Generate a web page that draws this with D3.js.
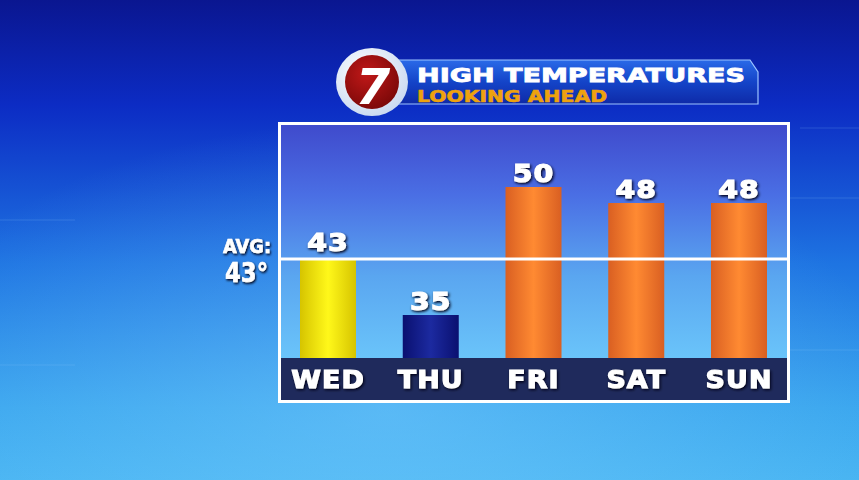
<!DOCTYPE html>
<html>
<head>
<meta charset="utf-8">
<script src="https://cdn.jsdelivr.net/npm/d3@7"></script>
<style>
  html, body { margin: 0; padding: 0; background: #1850d0; }
  svg { display: block; }
</style>
</head>
<body>
<svg id="chart" width="859" height="480"></svg>
<script>
// ---- data ----
const days = ["WED", "THU", "FRI", "SAT", "SUN"];
const highs = [43, 35, 50, 48, 48];
const avgLabel = "AVG:";
const avgValue = 43;
const titleText = "HIGH TEMPERATURES";
const subtitleText = "LOOKING AHEAD";
const logoText = "7";

const svg = d3.select("#chart");
const W = 859, H = 480;
const defs = svg.append("defs");

// background gradient
const bg = defs.append("linearGradient").attr("id", "bg").attr("x1", 0).attr("y1", 0).attr("x2", 0).attr("y2", 1);
bg.append("stop").attr("offset", "0%").attr("stop-color", "#0a1690");
bg.append("stop").attr("offset", "22%").attr("stop-color", "#0c2cc4");
bg.append("stop").attr("offset", "55%").attr("stop-color", "#1e74e2");
bg.append("stop").attr("offset", "85%").attr("stop-color", "#3aa6ee");
bg.append("stop").attr("offset", "100%").attr("stop-color", "#48b4f2");
svg.append("rect").attr("width", W).attr("height", H).attr("fill", "url(#bg)");

const glow = defs.append("radialGradient").attr("id", "glow").attr("cx", 0.45).attr("cy", 0.85).attr("r", 0.6);
glow.append("stop").attr("offset", "0%").attr("stop-color", "#7fd0ff").attr("stop-opacity", 0.45);
glow.append("stop").attr("offset", "100%").attr("stop-color", "#7fd0ff").attr("stop-opacity", 0);
svg.append("rect").attr("width", W).attr("height", H).attr("fill", "url(#glow)");

// faint decorative lines
const deco = svg.append("g").attr("stroke", "#9fd0ff").attr("stroke-opacity", 0.18).attr("fill", "none");
deco.append("line").attr("x1", 0).attr("x2", 75).attr("y1", 220).attr("y2", 220);
deco.append("line").attr("x1", 0).attr("x2", 75).attr("y1", 365).attr("y2", 365);
deco.append("line").attr("x1", 800).attr("x2", 859).attr("y1", 128).attr("y2", 128);
deco.append("line").attr("x1", 790).attr("x2", 859).attr("y1", 198).attr("y2", 198);
deco.append("line").attr("x1", 790).attr("x2", 859).attr("y1", 350).attr("y2", 350);

// ---- panel ----
const panel = { x: 280, y: 124, w: 508, h: 277 };
const band = { top: 358, bottom: 399 };

const pg = defs.append("linearGradient").attr("id", "panel").attr("x1", 0).attr("y1", 0).attr("x2", 0).attr("y2", 1);
pg.append("stop").attr("offset", "0%").attr("stop-color", "#3f4acc");
pg.append("stop").attr("offset", "30%").attr("stop-color", "#4a6ee4");
pg.append("stop").attr("offset", "65%").attr("stop-color", "#5aa6f0");
pg.append("stop").attr("offset", "100%").attr("stop-color", "#6ac4fa");
svg.append("rect").attr("x", panel.x).attr("y", panel.y).attr("width", panel.w).attr("height", band.top - panel.y)
  .attr("fill", "url(#panel)");

// scales
const barW = 56;
const x = d3.scalePoint().domain(days).range([328, 739]);
const y = d3.scaleLinear().domain([35, 43, 48, 50]).range([315, 259, 203, 187]);

// bar gradients
function hGrad(id, edge, mid) {
  const g = defs.append("linearGradient").attr("id", id).attr("x1", 0).attr("y1", 0).attr("x2", 1).attr("y2", 0);
  g.append("stop").attr("offset", "0%").attr("stop-color", edge);
  g.append("stop").attr("offset", "50%").attr("stop-color", mid);
  g.append("stop").attr("offset", "100%").attr("stop-color", edge);
}
hGrad("gYellow", "#d6c400", "#fff81a");
hGrad("gNavy", "#0a1070", "#1c2aa0");
hGrad("gOrange", "#d95f22", "#ff8a32");
const fillFor = v => v === avgValue ? "url(#gYellow)" : (v < avgValue ? "url(#gNavy)" : "url(#gOrange)");

svg.append("g").selectAll("rect").data(days).join("rect")
  .attr("x", d => x(d) - barW / 2)
  .attr("y", (d, i) => y(highs[i]))
  .attr("width", barW)
  .attr("height", (d, i) => band.top - y(highs[i]))
  .attr("fill", (d, i) => fillFor(highs[i]));

// bottom band
svg.append("rect").attr("x", panel.x).attr("y", band.top).attr("width", panel.w).attr("height", band.bottom - band.top + 2)
  .attr("fill", "#1f2a5c");

// avg line
svg.append("line").attr("x1", panel.x).attr("x2", panel.x + panel.w)
  .attr("y1", y(avgValue)).attr("y2", y(avgValue))
  .attr("stroke", "#ffffff").attr("stroke-width", 3);

// panel border
svg.append("rect").attr("x", panel.x - 0.5).attr("y", panel.y - 0.5).attr("width", panel.w + 1).attr("height", panel.h + 1)
  .attr("fill", "none").attr("stroke", "#ffffff").attr("stroke-width", 3);

// text shadow filter
const f = defs.append("filter").attr("id", "shadow").attr("x", "-20%").attr("y", "-30%").attr("width", "140%").attr("height", "160%");
f.append("feDropShadow").attr("dx", 1).attr("dy", 1.5).attr("stdDeviation", 1.3).attr("flood-color", "#000018").attr("flood-opacity", 1);

const font = "'DejaVu Sans', 'Liberation Sans', sans-serif";

// value labels
svg.append("g").selectAll("text").data(days).join("text")
  .attr("transform", (d, i) => `translate(${x(d)},${y(highs[i]) - (highs[i] === avgValue ? 8 : 5)}) scale(1.18,1)`)
  .attr("text-anchor", "middle")
  .attr("font-family", font).attr("font-weight", "bold").attr("font-size", 24)
  .attr("letter-spacing", 1)
  .attr("fill", "#ffffff").attr("stroke", "#ffffff").attr("stroke-width", 1.1)
  .attr("filter", "url(#shadow)")
  .text((d, i) => highs[i]);

// day labels
svg.append("g").selectAll("text").data(days).join("text")
  .attr("transform", d => `translate(${x(d)},388) scale(1.12,1)`)
  .attr("text-anchor", "middle")
  .attr("font-family", font).attr("font-weight", "bold").attr("font-size", 24)
  .attr("letter-spacing", 1)
  .attr("fill", "#ffffff").attr("stroke", "#ffffff").attr("stroke-width", 1.1)
  .attr("filter", "url(#shadow)")
  .text(d => d);

// AVG label
svg.append("text").attr("x", 271).attr("y", 253).attr("text-anchor", "end")
  .attr("font-family", font).attr("font-weight", "bold").attr("font-size", 19)
  .attr("fill", "#ffffff").attr("stroke", "#ffffff").attr("stroke-width", 0.6).attr("filter", "url(#shadow)")
  .attr("textLength", 48).attr("lengthAdjust", "spacingAndGlyphs")
  .text(avgLabel);
svg.append("text").attr("x", 268).attr("y", 282).attr("text-anchor", "end")
  .attr("font-family", font).attr("font-weight", "bold").attr("font-size", 27)
  .attr("fill", "#ffffff").attr("stroke", "#ffffff").attr("stroke-width", 0.6).attr("filter", "url(#shadow)")
  .attr("textLength", 43).attr("lengthAdjust", "spacingAndGlyphs")
  .text(avgValue + "°");

// ---- title banner ----
const bn = defs.append("linearGradient").attr("id", "banner").attr("x1", 0).attr("y1", 0).attr("x2", 0).attr("y2", 1);
bn.append("stop").attr("offset", "0%").attr("stop-color", "#2a6ae8");
bn.append("stop").attr("offset", "50%").attr("stop-color", "#1444c8");
bn.append("stop").attr("offset", "100%").attr("stop-color", "#0e2aa8");
svg.append("path")
  .attr("d", "M395,60 L750,60 L758,72 L758,104 L395,104 Z")
  .attr("fill", "url(#banner)").attr("stroke", "#9cc4ff").attr("stroke-width", 1.2);

svg.append("text").attr("x", 417).attr("y", 81.5)
  .attr("font-family", font).attr("font-weight", "bold").attr("font-size", 20)
  .attr("fill", "#ffffff").attr("stroke", "#ffffff").attr("stroke-width", 0.8)
  .attr("textLength", 328).attr("lengthAdjust", "spacingAndGlyphs")
  .text(titleText);
svg.append("text").attr("x", 417).attr("y", 101.5)
  .attr("font-family", font).attr("font-weight", "bold").attr("font-size", 16)
  .attr("fill", "#eea20e").attr("stroke", "#eea20e").attr("stroke-width", 0.6)
  .attr("textLength", 190).attr("lengthAdjust", "spacingAndGlyphs")
  .text(subtitleText);

// logo
const lg = defs.append("radialGradient").attr("id", "ring").attr("cx", 0.4).attr("cy", 0.35).attr("r", 0.7);
lg.append("stop").attr("offset", "0%").attr("stop-color", "#ffffff");
lg.append("stop").attr("offset", "100%").attr("stop-color", "#c8d8f0");
svg.append("ellipse").attr("cx", 372).attr("cy", 82).attr("rx", 36).attr("ry", 34).attr("fill", "url(#ring)");
const rg = defs.append("radialGradient").attr("id", "red").attr("cx", 0.4).attr("cy", 0.35).attr("r", 0.7);
rg.append("stop").attr("offset", "0%").attr("stop-color", "#c01818");
rg.append("stop").attr("offset", "100%").attr("stop-color", "#7a0808");
svg.append("circle").attr("cx", 372).attr("cy", 82).attr("r", 27).attr("fill", "url(#red)");
svg.append("text").attr("x", 373).attr("y", 104).attr("text-anchor", "middle")
  .attr("font-family", font).attr("font-weight", "bold").attr("font-style", "italic").attr("font-size", 50)
  .attr("fill", "#ffffff").text(logoText);
</script>
</body>
</html>
